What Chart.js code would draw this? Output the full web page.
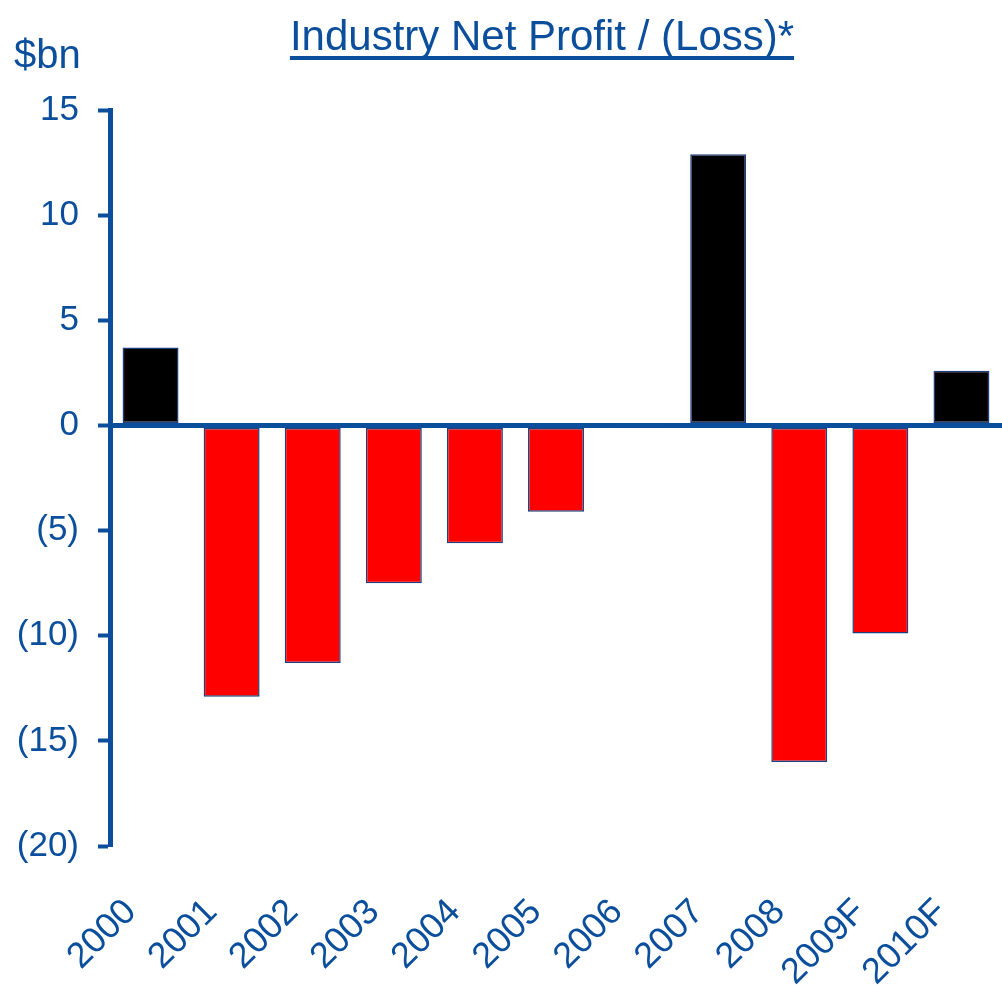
<!DOCTYPE html>
<html>
<head>
<meta charset="UTF-8">
<title>Industry Net Profit / (Loss)</title>
<script src="https://cdn.jsdelivr.net/npm/chart.js@4/dist/chart.umd.min.js"></script>
<style>
  body { margin: 0; background: #ffffff; }
  canvas { display: block; }
</style>
</head>
<body>
<canvas id="chart" width="1002" height="985"></canvas>
<script>
// data ($bn)
var years = ['2000', '2001', '2002', '2003', '2004', '2005', '2006', '2007', '2008', '2009F', '2010F'];
var profit = [3.7, -12.9, -11.3, -7.5, -5.6, -4.1, -0.1, 12.9, -16.0, -9.9, 2.6];
var yTicks = [15, 10, 5, 0, -5, -10, -15, -20];

var BLUE = '#0b4f9c';
var FONT = '"Liberation Sans", Arial, sans-serif';

// title + unit label, drawn on top of the canvas
var headerPlugin = {
  id: 'header',
  afterDraw: function(chart) {
    var ctx = chart.ctx;
    ctx.save();
    ctx.fillStyle = BLUE;
    ctx.font = '42px ' + FONT;
    ctx.textAlign = 'center';
    ctx.textBaseline = 'alphabetic';
    var title = 'Industry Net Profit / (Loss)*';
    ctx.fillText(title, 542, 50);
    var w = ctx.measureText(title).width;
    ctx.fillRect(542 - w / 2, 56, w, 4);
    ctx.textAlign = 'left';
    ctx.font = '40px ' + FONT;
    ctx.fillText('$bn', 14, 68);
    ctx.restore();
  }
};

new Chart(document.getElementById('chart'), {
  type: 'bar',
  data: {
    labels: years,
    datasets: [{
      data: profit,
      backgroundColor: profit.map(function(v) { return v < 0 ? '#ff0000' : '#000000'; }),
      borderColor: '#1d3f7c',
      borderWidth: 1.5,
      borderSkipped: false,
      categoryPercentage: 1,
      barPercentage: 0.69
    }]
  },
  options: {
    responsive: false,
    animation: false,
    layout: { padding: { top: 110, left: 0, right: 0, bottom: 0 } },
    plugins: {
      legend: { display: false },
      tooltip: { enabled: false }
    },
    scales: {
      x: {
        grid: { display: false },
        border: { display: false },
        ticks: {
          color: BLUE,
          font: { family: FONT, size: 36 },
          minRotation: 45,
          maxRotation: 45,
          padding: 37,
          labelOffset: -20,
          autoSkip: false
        },
        afterFit: function(scale) {
          scale.height = 139;
          scale.paddingLeft = 0;
          scale.paddingRight = 0;
        }
      },
      y: {
        min: -20,
        max: 15,
        afterBuildTicks: function(scale) {
          scale.ticks = yTicks.map(function(v) { return { value: v }; });
        },
        afterFit: function(scale) {
          scale.width = 110;
          scale.paddingTop = 0;
          scale.paddingBottom = 0;
        },
        border: { display: true, color: BLUE, width: 5 },
        grid: {
          color: function(c) { return c.tick && c.tick.value === 0 ? BLUE : 'rgba(0,0,0,0)'; },
          lineWidth: function(c) { return c.tick && c.tick.value === 0 ? 5 : 1; },
          tickColor: BLUE,
          tickWidth: 4,
          tickLength: 12
        },
        ticks: {
          color: BLUE,
          font: { family: FONT, size: 35 },
          padding: 19,
          callback: function(v) { return v < 0 ? '(' + (-v) + ')' : String(v); }
        }
      }
    }
  },
  plugins: [headerPlugin]
});
</script>
</body>
</html>
